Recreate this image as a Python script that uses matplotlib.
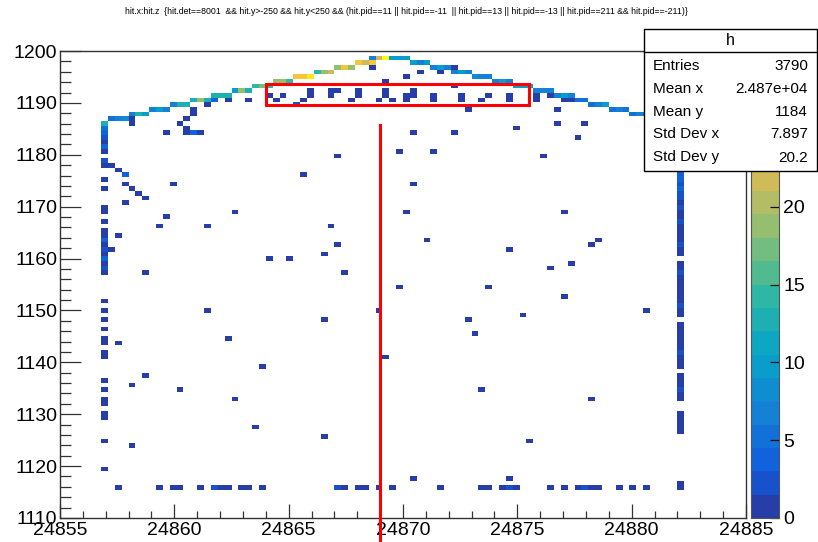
import numpy as np
import matplotlib
matplotlib.use("Agg")
import matplotlib.pyplot as plt
from matplotlib.colors import ListedColormap, BoundaryNorm, LinearSegmentedColormap
from matplotlib.patches import Rectangle
from matplotlib.lines import Line2D
from matplotlib.ticker import MultipleLocator, FuncFormatter

plt.rcParams['font.family'] = ['Liberation Sans', 'DejaVu Sans']

title_text = ("hit.x:hit.z  {hit.det==8001  && hit.y>-250 && hit.y<250 && (hit.pid==11 || hit.pid==-11  || "
              "hit.pid==13 || hit.pid==-13 || hit.pid==211 && hit.pid==-211)}")

x_range = (24855, 24885)
y_range = (1110, 1200)
n_bins = 100
z_max = 30
n_levels = 20
z_ticks = [0, 5, 10, 15, 20]

# top arc (hit.z, hit.x, content)
arc_z = [24856.95, 24857.25, 24857.55, 24857.85, 24858.15, 24858.45, 24858.75, 24859.05, 24859.35, 24859.65,
         24859.95, 24860.25, 24860.55, 24860.85, 24861.15, 24861.45, 24861.75, 24862.05, 24862.35, 24862.65,
         24862.95, 24863.25, 24863.55, 24863.85, 24864.15, 24864.45, 24864.75, 24865.05, 24865.35, 24865.65,
         24865.95, 24866.25, 24866.55, 24866.85, 24867.15, 24867.45, 24867.75, 24868.05, 24868.35, 24868.65,
         24868.65, 24868.95, 24869.25, 24869.55, 24869.85, 24870.15, 24870.45, 24870.75, 24871.05, 24871.35,
         24871.65, 24871.95, 24872.25, 24872.55, 24872.85, 24873.15, 24873.45, 24873.75, 24874.05, 24874.35,
         24874.65, 24874.95, 24875.25, 24875.55, 24875.85, 24876.15, 24876.45, 24876.75, 24877.05, 24877.35,
         24877.65, 24877.95, 24878.25, 24878.55, 24878.85, 24879.15, 24879.45, 24879.75, 24880.05, 24880.35,
         24880.65, 24880.95, 24881.25, 24881.55, 24881.85]
arc_y = [1186.05, 1186.95, 1186.95, 1186.95, 1187.85, 1187.85, 1187.85, 1188.75, 1188.75, 1188.75,
         1189.65, 1189.65, 1189.65, 1190.55, 1190.55, 1190.55, 1191.45, 1191.45, 1191.45, 1192.35,
         1192.35, 1192.35, 1193.25, 1193.25, 1193.25, 1194.15, 1194.15, 1194.15, 1195.05, 1195.05,
         1195.05, 1195.95, 1195.95, 1195.95, 1196.85, 1196.85, 1196.85, 1197.75, 1197.75, 1197.75,
         1198.65, 1198.65, 1198.65, 1198.65, 1198.65, 1198.65, 1197.75, 1197.75, 1197.75, 1196.85,
         1196.85, 1196.85, 1195.95, 1195.95, 1195.95, 1195.05, 1195.05, 1195.05, 1194.15, 1194.15,
         1194.15, 1193.25, 1193.25, 1193.25, 1192.35, 1192.35, 1192.35, 1191.45, 1191.45, 1191.45,
         1190.55, 1190.55, 1189.65, 1189.65, 1189.65, 1188.75, 1188.75, 1188.75, 1187.85, 1187.85,
         1187.85, 1186.95, 1186.95, 1186.95, 1186.95]
arc_n = [13, 5, 6, 8, 6, 12, 10, 6, 10, 7,
         6, 13, 13, 13, 18, 13, 13, 12, 13, 10,
         18, 13, 14, 17, 14, 18, 18, 14, 24, 25,
         27, 14, 18, 21, 18, 25, 19, 25, 21, 24,
         6, 21, 30, 9, 10, 10, 10, 6, 10, 6,
         10, 6, 6, 10, 7, 8, 7, 6, 6, 9,
         7, 10, 9, 10, 5, 6, 5, 6, 9, 6,
         5, 5, 5, 6, 9, 5, 6, 5, 5, 6,
         7, 6, 8, 6, 5]

# left vertical column of hits
left_col_z = 24856.95
left_col_y = [1185.15, 1184.25, 1183.35, 1182.45, 1181.55, 1180.65, 1178.85, 1177.95, 1175.25, 1173.45,
              1169.85, 1168.95, 1167.15, 1165.35, 1164.45, 1163.55, 1162.65, 1161.75, 1160.85, 1159.95,
              1159.05, 1158.15, 1157.25, 1151.85, 1150.05, 1148.25, 1146.45, 1144.65, 1143.75, 1141.95,
              1141.05, 1136.55, 1134.75, 1132.95, 1132.05, 1130.25, 1129.35, 1124.85, 1119.45]
left_col_n = [5, 4, 2, 1, 3, 1, 2, 1, 1, 1,
              1, 1, 1, 1, 1, 3, 1, 2, 1, 3,
              1, 2, 1, 1, 1, 1, 1, 1, 1, 1,
              1, 1, 1, 1, 1, 1, 1, 1, 1]

# right vertical column of hits
right_col_z = 24882.15
right_col_y = [1126.65, 1127.55, 1128.45, 1129.35, 1130.25, 1132.95, 1133.85, 1134.75, 1135.65, 1136.55,
               1137.45, 1139.25, 1140.15, 1141.05, 1141.95, 1142.85, 1143.75, 1144.65, 1145.55, 1146.45,
               1147.35, 1149.15, 1150.05, 1150.95, 1151.85, 1152.75, 1153.65, 1154.55, 1155.45, 1156.35,
               1157.25, 1158.15, 1159.05, 1160.85, 1161.75, 1162.65, 1163.55, 1164.45, 1165.35, 1166.25,
               1167.15, 1168.05, 1168.95, 1169.85, 1170.75, 1171.65, 1172.55, 1173.45, 1174.35, 1175.25,
               1176.15, 1177.05, 1177.95, 1178.85, 1179.75, 1180.65, 1181.55, 1182.45, 1183.35, 1184.25,
               1185.15, 1186.05, 1115.40, 1116.30]
right_col_n = [1, 1, 1, 1, 1, 1, 1, 2, 1, 1,
               1, 1, 1, 1, 2, 1, 1, 1, 1, 1,
               1, 1, 1, 2, 1, 1, 1, 1, 1, 1,
               2, 1, 1, 1, 1, 2, 1, 1, 1, 1,
               2, 1, 1, 2, 1, 2, 2, 3, 2, 3,
               3, 4, 3, 4, 5, 4, 3, 5, 4, 4,
               5, 6, 1, 1]

# bottom row of hits
bottom_row_y = 1115.4
bottom_row_z = [24857.60, 24859.37, 24860.03, 24860.29, 24861.20, 24861.80, 24862.11, 24862.39, 24862.94, 24863.26,
                24863.88, 24867.13, 24867.46, 24868.05, 24868.38, 24868.99, 24869.56, 24871.66, 24873.47, 24873.78,
                24874.37, 24874.65, 24874.94, 24876.45, 24877.08, 24877.63, 24877.93, 24878.24, 24878.55, 24879.42,
                24880.12, 24880.69]
bottom_row_n = [1, 1, 1, 1, 1, 2, 1, 1, 1, 1,
                1, 2, 1, 1, 1, 1, 1, 1, 1, 1,
                1, 2, 1, 1, 1, 1, 2, 1, 1, 1,
                1, 1]

# scattered single hits (hit.z, hit.x, content)
hits_near_box = [(24864.14, 1191.89, 1), (24864.44, 1190.73, 1), (24864.75, 1191.89, 1), (24865.36, 1189.96, 2),
                 (24865.67, 1190.73, 1), (24865.93, 1192.66, 1), (24865.93, 1191.70, 1), (24866.85, 1192.08, 1),
                 (24866.85, 1191.12, 1), (24867.16, 1192.66, 1), (24867.72, 1190.73, 1), (24868.03, 1192.66, 1),
                 (24868.03, 1191.70, 1), (24868.95, 1190.73, 1), (24869.21, 1192.66, 1), (24869.21, 1191.70, 1),
                 (24869.52, 1190.73, 1), (24870.17, 1191.89, 1), (24870.17, 1190.92, 1), (24870.44, 1192.66, 1),
                 (24870.44, 1191.89, 1), (24871.35, 1191.89, 1), (24871.35, 1190.92, 1), (24872.27, 1192.85, 1),
                 (24872.53, 1191.70, 1), (24872.53, 1190.92, 1), (24873.45, 1190.73, 1), (24873.80, 1191.70, 1),
                 (24874.63, 1191.70, 1), (24874.63, 1190.92, 1), (24875.81, 1192.66, 1), (24875.81, 1191.70, 1),
                 (24875.81, 1190.92, 1), (24876.43, 1192.66, 1), (24876.43, 1191.89, 1), (24877.08, 1190.92, 1),
                 (24877.39, 1190.92, 1),
                 (24868.64, 1197.28, 1), (24869.21, 1194.39, 1), (24870.17, 1195.35, 1), (24870.74, 1196.32, 1),
                 (24871.62, 1196.32, 1), (24872.27, 1197.28, 1),
                 (24861.43, 1189.96, 1), (24861.73, 1190.92, 3), (24862.30, 1190.92, 1), (24863.26, 1190.92, 1)]
hits_upper = [(24860.82, 1189.00, 1), (24860.82, 1188.23, 1), (24860.55, 1187.26, 1), (24860.25, 1186.49, 1),
              (24860.55, 1185.34, 1), (24860.55, 1184.57, 1), (24860.82, 1184.57, 3), (24858.15, 1187.26, 1),
              (24858.15, 1186.30, 1), (24859.63, 1183.80, 1), (24861.12, 1183.80, 1), (24870.44, 1183.80, 1),
              (24872.84, 1189.19, 1), (24876.78, 1189.19, 1), (24876.78, 1186.49, 1), (24877.96, 1186.49, 1),
              (24874.94, 1185.34, 1), (24872.27, 1184.57, 1), (24877.65, 1183.22, 1)]
hits_left = [(24857.10, 1178.21, 1), (24857.54, 1177.24, 1), (24857.84, 1176.47, 3), (24857.84, 1174.74, 1),
             (24858.15, 1173.78, 1), (24858.41, 1172.81, 1), (24858.76, 1171.85, 1), (24857.84, 1171.08, 1),
             (24859.94, 1174.74, 1), (24859.63, 1168.38, 1), (24859.33, 1166.45, 1), (24861.43, 1166.45, 1),
             (24857.54, 1164.72, 1), (24857.10, 1162.02, 1), (24858.76, 1157.59, 1)]
hits_middle = [(24867.07, 1180.13, 1), (24869.99, 1180.90, 1), (24871.27, 1180.33, 1), (24876.03, 1179.36, 1),
               (24865.58, 1176.28, 1), (24870.44, 1174.74, 1), (24862.61, 1169.15, 1), (24870.13, 1169.34, 1),
               (24877.08, 1168.57, 1), (24866.76, 1165.88, 1), (24867.20, 1162.79, 1), (24866.46, 1161.25, 1),
               (24864.27, 1160.29, 1), (24865.06, 1160.29, 1), (24871.09, 1163.95, 1), (24874.68, 1162.02, 1),
               (24878.13, 1162.41, 1), (24878.57, 1163.76, 1), (24876.43, 1158.36, 1), (24877.34, 1159.13, 1),
               (24867.46, 1156.82, 1), (24869.87, 1154.70, 1), (24873.80, 1154.70, 1), (24877.08, 1152.97, 1),
               (24861.30, 1150.08, 1), (24866.54, 1148.54, 1), (24868.95, 1150.08, 1), (24872.88, 1148.54, 1),
               (24875.24, 1149.50, 1), (24880.67, 1150.27, 1), (24873.19, 1145.84, 1), (24857.54, 1143.91, 1),
               (24862.43, 1144.68, 1), (24863.88, 1138.90, 1), (24869.30, 1141.02, 1), (24858.72, 1137.55, 1),
               (24858.06, 1136.01, 1), (24860.29, 1134.86, 1), (24862.56, 1133.12, 1), (24873.50, 1134.86, 1),
               (24878.22, 1133.31, 1), (24863.57, 1127.53, 1), (24866.50, 1125.80, 1), (24875.51, 1125.03, 1),
               (24858.10, 1124.07, 1), (24870.44, 1117.71, 1), (24874.72, 1117.71, 1)]

stats_title = "h"
stats_labels = ["Entries", "Mean x", "Mean y", "Std Dev x", "Std Dev y"]
stats_values = ["3790", "2.487e+04", "1184", "7.897", "20.2"]

marker_z = 24869.0
marker_y = (1185.7, 1105.4)
roi_z = (24864.0, 24875.5)
roi_y = (1189.6, 1193.6)

# ---------------------------------------------------------------------------
zs, ys, ws = [], [], []
zs += arc_z; ys += arc_y; ws += arc_n
zs += [left_col_z] * len(left_col_y); ys += left_col_y; ws += left_col_n
zs += [right_col_z] * len(right_col_y); ys += right_col_y; ws += right_col_n
zs += bottom_row_z; ys += [bottom_row_y] * len(bottom_row_z); ws += bottom_row_n
for grp in (hits_near_box, hits_upper, hits_left, hits_middle):
    for z, y, n in grp:
        zs.append(z); ys.append(y); ws.append(n)

xedges = np.linspace(x_range[0], x_range[1], n_bins + 1)
yedges = np.linspace(y_range[0], y_range[1], n_bins + 1)
H, _, _ = np.histogram2d(zs, ys, bins=[xedges, yedges], weights=ws)
Hm = np.ma.masked_where(H.T <= 0, H.T)

# ROOT kBird palette
stops = [0.0, 0.125, 0.25, 0.375, 0.5, 0.625, 0.75, 0.875, 1.0]
red = [0.2082, 0.0592, 0.0780, 0.0232, 0.1802, 0.5301, 0.8186, 0.9956, 0.9764]
green = [0.1664, 0.3599, 0.5041, 0.6419, 0.7178, 0.7492, 0.7328, 0.7862, 0.9832]
blue = [0.5293, 0.8684, 0.8385, 0.7914, 0.6425, 0.4662, 0.3499, 0.1968, 0.0539]
bird = LinearSegmentedColormap.from_list(
    "bird", list(zip(stops, zip(red, green, blue))), N=255)
level_colors = [bird(int((i + 0.99) * 255 / n_levels) / 254) for i in range(n_levels)]
cmap = ListedColormap(level_colors)
levels = np.linspace(0, z_max, n_levels + 1)
norm = BoundaryNorm(levels, n_levels, clip=True)

W, Hpx = 818, 542
fig = plt.figure(figsize=(W / 100, Hpx / 100), dpi=100)
fl, fr, ft, fb = 60, 746, 51, 518
ax = fig.add_axes([fl / W, (Hpx - fb) / Hpx, (fr - fl) / W, (fb - ft) / Hpx])
ax.pcolormesh(xedges, yedges, Hm, cmap=cmap, norm=norm, shading='flat')
ax.set_xlim(*x_range)
ax.set_ylim(*y_range)

axis_col = '#333333'
for s in ax.spines.values():
    s.set_linewidth(1.0)
    s.set_color(axis_col)
ax.xaxis.set_major_locator(MultipleLocator(5))
ax.xaxis.set_minor_locator(MultipleLocator(1))
ax.yaxis.set_major_locator(MultipleLocator(10))
ax.yaxis.set_minor_locator(MultipleLocator(2))
ax.tick_params(axis='x', which='major', direction='in', length=10, width=0.9, color=axis_col,
               labelsize=14, pad=3)
ax.tick_params(axis='x', which='minor', direction='in', length=5, width=0.9, color=axis_col)
ax.tick_params(axis='y', which='major', direction='in', length=15, width=0.9, color=axis_col,
               labelsize=14, pad=2)
ax.tick_params(axis='y', which='minor', direction='in', length=8, width=0.9, color=axis_col)
ax.xaxis.set_major_formatter(FuncFormatter(lambda v, p: f"{int(round(v))}"))
ax.yaxis.set_major_formatter(FuncFormatter(lambda v, p: f"{int(round(v))}"))

# marker line and region of interest
ax.add_line(Line2D([marker_z, marker_z], list(marker_y), color='#ff0000', lw=2.2, clip_on=False, zorder=6))
ax.add_patch(Rectangle((roi_z[0], roi_y[0]), roi_z[1] - roi_z[0], roi_y[1] - roi_y[0],
                       fill=False, ec='#ff0000', lw=2.2, zorder=6))

# palette
pl, pr = 751, 779
cax = fig.add_axes([pl / W, (Hpx - fb) / Hpx, (pr - pl) / W, (fb - ft) / Hpx])
band_mid = ((levels[:-1] + levels[1:]) / 2).reshape(-1, 1)
cax.pcolormesh([0, 1], levels, band_mid, cmap=cmap, norm=norm, shading='flat')
cax.set_xlim(0, 1)
cax.set_ylim(0, z_max)
cax.set_xticks([])
cax.yaxis.tick_right()
cax.set_yticks(z_ticks)
cax.tick_params(axis='y', direction='in', length=6.5, width=0.9, color='#111111', labelsize=14, pad=3)
for s in cax.spines.values():
    s.set_linewidth(0.8)
    s.set_color('#555555')

# title
fig.text(406 / W, 1 - 12 / Hpx, title_text, ha='center', va='center', fontsize=6.3)

# stats box
bx0, bx1, by0, by1 = 644, 817, 29, 171
fig.patches.append(Rectangle((bx0 / W, 1 - by1 / Hpx), (bx1 - bx0) / W, (by1 - by0) / Hpx,
                             transform=fig.transFigure, fc='white', ec='black', lw=1.0, zorder=10))
fig.lines.append(Line2D([bx0 / W, bx1 / W], [1 - 52 / Hpx, 1 - 52 / Hpx], transform=fig.transFigure,
                        color='black', lw=1.0, zorder=11))
fig.text((bx0 + bx1) / 2 / W, 1 - 40.5 / Hpx, stats_title, ha='center', va='center', fontsize=11.5, zorder=12)
row_y = [65.5, 89, 112, 134.5, 157.5]
for lab, val, yy in zip(stats_labels, stats_values, row_y):
    fig.text(653 / W, 1 - yy / Hpx, lab, ha='left', va='center', fontsize=11, zorder=12)
    fig.text(808 / W, 1 - yy / Hpx, val, ha='right', va='center', fontsize=11, zorder=12)

fig.savefig("out.png", dpi=100)
